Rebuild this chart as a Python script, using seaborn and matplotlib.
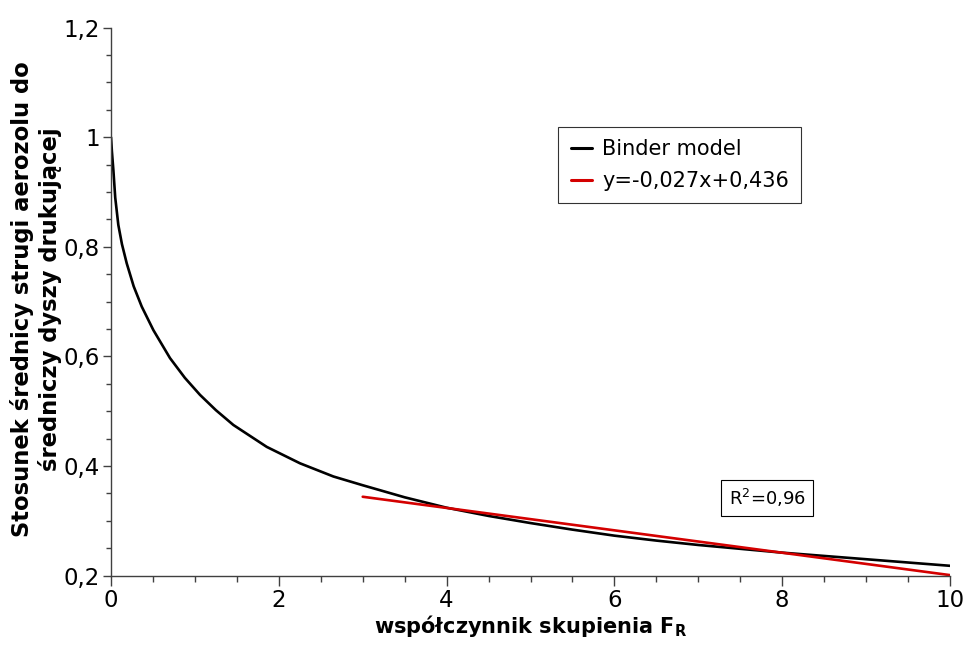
import matplotlib
matplotlib.use("Agg")
import matplotlib.pyplot as plt
from matplotlib.ticker import FuncFormatter, MultipleLocator
import seaborn as sns
import pandas as pd

# Binder model curve
binder_x = [0.0, 0.01, 0.028, 0.05, 0.087, 0.13, 0.187, 0.27, 0.366, 0.505, 0.703, 0.88, 1.06,
            1.25, 1.458, 1.856, 2.253, 2.65, 3.0, 3.5, 4.0, 4.5, 5.0, 5.5,
            6.0, 6.5, 7.0, 7.5, 8.0, 8.5, 9.0, 9.5, 10.0]
binder_y = [1.0, 0.975, 0.94, 0.89, 0.84, 0.805, 0.77, 0.728, 0.691, 0.648, 0.597, 0.561, 0.530,
            0.502, 0.475, 0.435, 0.405, 0.381, 0.365, 0.343, 0.324, 0.309, 0.296, 0.284,
            0.273, 0.264, 0.256, 0.249, 0.242, 0.236, 0.230, 0.224, 0.218]
# Linear fit segment
fit_x = [3.0, 10.0]
fit_y = [0.344, 0.201]

legend_labels = ["Binder model", "y=-0,027x+0,436"]
r2_text = "R$^2$=0,96"
xlabel = "współczynnik skupienia F$_\\mathbf{R}$"
ylabel = "Stosunek średnicy strugi aerozolu do\nśredniczy dyszy drukującej"

sns.set_style("ticks")
plt.rcParams['font.family'] = ['DejaVu Sans']
plt.rcParams['mathtext.fontset'] = 'dejavusans'
plt.rcParams['text.color'] = 'black'
plt.rcParams['axes.labelcolor'] = 'black'
plt.rcParams['xtick.labelcolor'] = 'black'
plt.rcParams['ytick.labelcolor'] = 'black'

fig = plt.figure(figsize=(9.68, 6.45), dpi=100)
ax = fig.add_axes([0.1147, 0.1075, 0.8667, 0.8496])

df_b = pd.DataFrame({"x": binder_x, "y": binder_y})
df_f = pd.DataFrame({"x": fit_x, "y": fit_y})
sns.lineplot(data=df_b, x="x", y="y", ax=ax, color="black", linewidth=1.9,
             label=legend_labels[0], estimator=None, sort=False)
sns.lineplot(data=df_f, x="x", y="y", ax=ax, color="#d40000", linewidth=1.9,
             label=legend_labels[1], estimator=None, sort=False)

ax.set_xlim(0, 10)
ax.set_ylim(0.2, 1.2)
ax.xaxis.set_major_locator(MultipleLocator(2))
ax.xaxis.set_minor_locator(MultipleLocator(0.5))
ax.yaxis.set_major_locator(MultipleLocator(0.2))
ax.yaxis.set_minor_locator(MultipleLocator(0.05))

def fmt(v, pos):
    s = ("%.1f" % v)
    if s.endswith(".0"):
        s = s[:-2]
    return s.replace(".", ",")
ax.xaxis.set_major_formatter(FuncFormatter(fmt))
ax.yaxis.set_major_formatter(FuncFormatter(fmt))

for side in ["top", "right"]:
    ax.spines[side].set_visible(False)
for side in ["left", "bottom"]:
    ax.spines[side].set_color("#404040")
    ax.spines[side].set_linewidth(1.0)

ax.tick_params(axis="y", which="major", direction="out", length=6, width=1,
               color="#404040", labelsize=16.5, pad=2)
ax.tick_params(axis="y", which="minor", direction="out", length=3.6, width=1,
               color="#404040")
ax.tick_params(axis="x", which="major", direction="out", length=7.5, width=1,
               color="#404040", labelsize=16.5, pad=2)
ax.tick_params(axis="x", which="minor", direction="out", length=4.3, width=1,
               color="#404040")

ax.set_xlabel(xlabel, fontsize=15, fontweight="bold", labelpad=1)
ax.set_ylabel(ylabel, fontsize=16.3, fontweight="bold")
ax.yaxis.set_label_coords(-0.0584, 0.505)

leg = ax.legend(loc="upper left", bbox_to_anchor=(0.533, 0.819), borderaxespad=0,
                fontsize=15, frameon=True, fancybox=False, handlelength=1.0,
                handletextpad=0.5, borderpad=0.6, labelspacing=0.55)
leg.get_frame().set_edgecolor("black")
leg.get_frame().set_linewidth(0.8)
for line in leg.get_lines():
    line.set_linewidth(2.2)

ax.text(0.782, 0.142, r2_text, transform=ax.transAxes, fontsize=13,
        ha="center", va="center",
        bbox=dict(boxstyle="square,pad=0.4", facecolor="white", edgecolor="black", linewidth=0.8))

fig.savefig("out.png", dpi=100)
